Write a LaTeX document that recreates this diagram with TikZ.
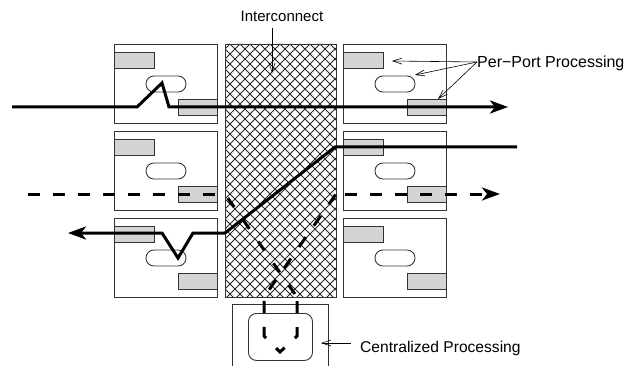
\documentclass[tikz,border=0pt]{standalone}
\usepackage{fontspec}
\setmainfont{Liberation Sans}
\usetikzlibrary{arrows.meta}
\begin{document}
\begin{tikzpicture}[x=1pt,y=-1pt,
  card/.style={draw=black!80, line width=0.9pt, minimum width=103pt, minimum height=79pt, anchor=north west, inner sep=0pt},
  port/.style={draw=black!80, fill=black!17, line width=0.9pt, anchor=north west, inner sep=0pt},
  oval/.style={draw=black!80, line width=0.9pt, rounded corners=7.9pt, minimum width=40pt, minimum height=16pt, inner sep=0pt},
  box/.style={draw=black!80, line width=0.9pt, anchor=north west, inner sep=0pt},
  flow/.style={line width=3pt, line join=miter},
  dflow/.style={line width=3pt, line join=miter},
  bigarrow/.style={-{Stealth[length=18pt,width=13pt,inset=5pt]}},
  callout/.style={line width=0.6pt, -{Straight Barb[length=9pt,width=6pt]}},
  lbl/.style={inner sep=0pt},
  hatch/.style={draw=black!85, line width=0.9pt}
]
\useasboundingbox (0,0) rectangle (631,366);

% line cards
\foreach \x/\y/\n in {114/44/L1, 114/131/L2, 114/218/L3, 343/44/R1, 343/131/R2, 343/218/R3} {
  \node[card] (\n) at (\x,\y) {};
  \node[port, minimum width=40pt, minimum height=16pt] (\n a) at (\x,\y+8) {};
  \node[oval] (\n o) at (\x+52,\y+40) {};
  \node[port, minimum width=39pt, minimum height=16pt] (\n b) at (\x+64,\y+55) {};
}

% interconnect with crosshatch
\begin{scope}
  \clip (225,44) rectangle (336,297);
  \foreach \k in {-30,-20,...,590} {
    \draw[hatch] (\k,44) -- ++(260,260);
    \draw[hatch] (\k,44) -- ++(-260,260);
  }
\end{scope}
\node[box, minimum width=111pt, minimum height=253pt] (ic) at (225,44) {};

% centralized processor
\node[box, minimum width=96pt, minimum height=90pt] (cp) at (232,304) {};
\node[box, rounded corners=8pt, minimum width=64pt, minimum height=47pt] (cpi) at (248,313) {};

% flows
\coordinate (f1s) at (12,107);
\coordinate (f1e) at (508,107);
\draw[flow, bigarrow] (f1s) -- (137,107) -- (162,83) -- (169,107) -- (f1e);

\coordinate (f2s) at (517,147);
\coordinate (f2e) at (68,233);
\draw[flow, bigarrow] (f2s) -- (335,147) -- (225,233) -- (193,233) -- (178,258) -- (162,233) -- (f2e);

% dashed flow through the centralized processor
\coordinate (f3s) at (28,194);
\coordinate (icl3) at (225,194);
\coordinate (pr) at (297,297);
\coordinate (pl) at (264,297);
\coordinate (icr3) at (336,194);
\coordinate (f3e) at (500,194);
\draw[dflow, dash pattern=on 12pt off 13pt] (f3s) -- (icl3);
\draw[dflow, dash pattern=on 11pt off 15.5pt, dash phase=21.5pt] (icl3) -- (pr);
\draw[dflow, dash pattern=on 12pt off 14pt, dash phase=22pt] (pr) -- (297,336) -- (280,352) -- (264,336) -- (pl);
\draw[dflow, dash pattern=on 12pt off 14pt, dash phase=17pt] (pl) -- (icr3);
\draw[dflow, bigarrow, dash pattern=on 12pt off 13pt, dash phase=16pt] (icr3) -- (f3e);

% labels
\node[lbl, font=\fontsize{15}{18}\selectfont, anchor=base west] (icl) at (240.5,22) {Interconnect};
\coordinate (ict) at (272,73);
\draw[callout] (272,28) -- (ict);

\node[lbl, font=\fontsize{16}{19}\selectfont, anchor=base west] (ppl) at (477,68) {Per−Port Processing};
\coordinate (pp) at (477,62);
\coordinate (t1) at (392,61);
\coordinate (t2) at (415,75);
\coordinate (t3) at (438,99);
\draw[callout] (pp) -- (t1);
\draw[callout] (pp) -- (t2);
\draw[callout] (pp) -- (t3);

\node[lbl, font=\fontsize{15.6}{19}\selectfont, anchor=base west] (cpl) at (360,352) {Centralized Processing};
\coordinate (cpt) at (321,343);
\draw[callout] (351,343) -- (cpt);
\end{tikzpicture}
\end{document}
